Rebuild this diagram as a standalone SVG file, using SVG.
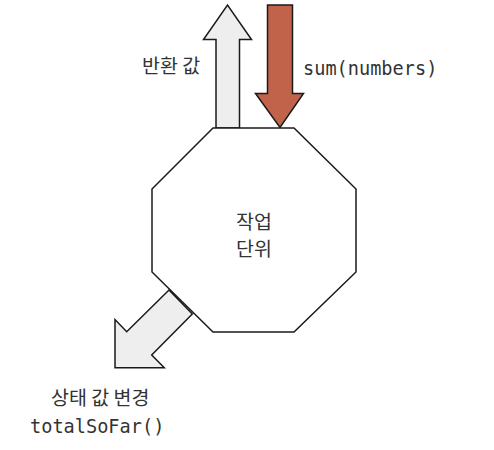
<svg xmlns="http://www.w3.org/2000/svg" width="494" height="450" viewBox="0 0 494 450">
<style>
.shape{stroke:#1a1a1a;stroke-width:1.5;stroke-linejoin:miter}
.light{fill:#eeeeee}
.red{fill:#c1634b}
.ko{font-family:"Noto Sans CJK KR","Noto Sans",sans-serif;font-size:19.5px;fill:#333}
.mono{font-family:"DejaVu Sans Mono","Liberation Mono",monospace;font-size:18.6px;fill:#333}
</style>
<rect width="494" height="450" fill="#ffffff"/>
<g id="connectors">
  <polygon id="return-arrow" class="shape light" points="216,128 216,39.5 203.5,39.5 227.5,5 251.5,39.5 239.5,39.5 239.5,128"/>
  <polygon id="input-arrow" class="shape red" points="267.5,5 292.5,5 292.5,93.5 303.5,93.5 280,127.5 255.5,93.5 267.5,93.5"/>
  <polygon id="state-arrow" class="shape light" points="169,290 126.7,331.7 115,319.5 115,367.7 164.3,367.7 151.7,355 192.3,314"/>
</g>
<g id="unit-of-work">
  <polygon class="shape" fill="#ffffff" points="213,128 294,128 356,189 356,272 294,332 213,332 152,272 152,189"/>
  <text class="ko" x="254" y="229" text-anchor="middle">작업</text>
  <text class="ko" x="254" y="256" text-anchor="middle">단위</text>
</g>
<g id="labels">
  <text class="ko" x="142" y="73">반환 값</text>
  <text class="mono" x="303" y="75">sum(numbers)</text>
  <text class="ko" x="51" y="405">상태 값 변경</text>
  <text class="mono" x="30" y="433">totalSoFar()</text>
</g>
</svg>
